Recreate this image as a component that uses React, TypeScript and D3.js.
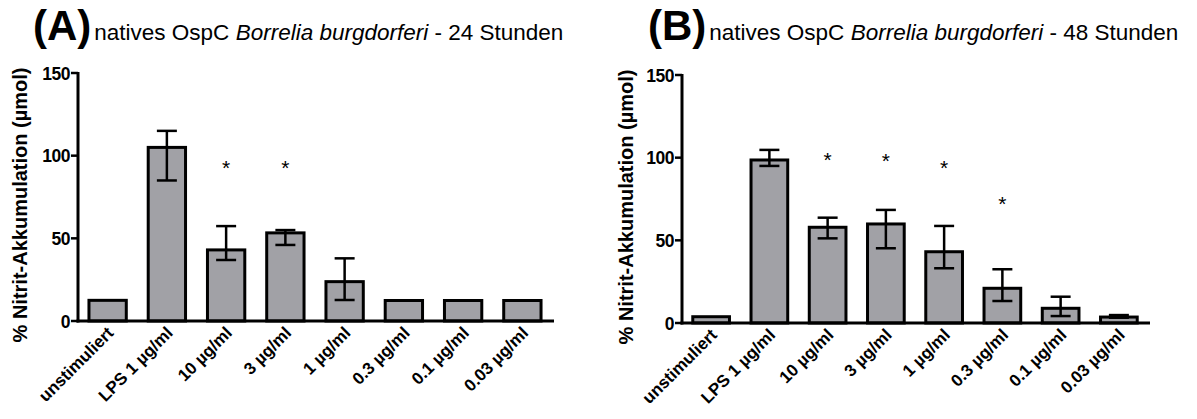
import { useEffect, useRef } from "react";
import * as d3 from "d3";

const categories = [
  "unstimuliert",
  "LPS 1 µg/ml",
  "10 µg/ml",
  "3 µg/ml",
  "1 µg/ml",
  "0.3 µg/ml",
  "0.1 µg/ml",
  "0.03 µg/ml",
];
const yTicks = [0, 50, 100, 150];

// (A) 24 Stunden
const meanA = [12.5, 105, 43, 53.3, 23.8, 12.4, 12.4, 12.4];
const highA = [12.7, 115, 57.4, 55, 37.9, 12.6, 12.6, 12.6];
const lowA = [12.3, 85, 36.9, 46, 12.7, 12.2, 12.2, 12.2];
const starsA = [null, null, 95.5, 95.5, null, null, null, null];

// (B) 48 Stunden
const meanB = [3.8, 98.6, 57.9, 59.9, 43.1, 21, 8.9, 3.6];
const highB = [4.1, 104.7, 63.7, 68.4, 58.7, 32.5, 15.9, 4.8];
const lowB = [3.5, 95, 51.2, 45.2, 33.1, 13.3, 4.2, 3.2];
const starsB = [null, null, 101.6, 101.2, 97, 75, null, null];

const yTitle = "% Nitrit-Akkumulation (µmol)";

export default function App() {
  const svgRef = useRef<SVGSVGElement | null>(null);

  useEffect(() => {
    const svg = d3.select(svgRef.current);
    svg.selectAll("*").remove();
    const font = "'Liberation Sans', Arial, sans-serif";

    const panels = [
      { letter: "(A)", hours: "24", mean: meanA, high: highA, low: lowA, stars: starsA,
        x0: 78, x1: 552, yTop: 73, yBottom: 321, titleX: 33, yTitleX: 27 },
      { letter: "(B)", hours: "48", mean: meanB, high: highB, low: lowB, stars: starsB,
        x0: 682, x1: 1148, yTop: 75, yBottom: 323, titleX: 648, yTitleX: 633 },
    ];

    panels.forEach(p => {
      const g = svg.append("g");
      const x = d3.scaleBand<string>().domain(categories).range([p.x0, p.x1])
        .paddingInner(0.37).paddingOuter(0.185);
      const y = d3.scaleLinear().domain([0, 150]).range([p.yBottom, p.yTop]);

      // title
      const title = g.append("text").attr("x", p.titleX).attr("y", 40)
        .style("font-family", font).attr("fill", "#000");
      title.append("tspan").style("font-size", "42px").style("font-weight", "bold").text(p.letter);
      title.append("tspan").attr("dx", 3).style("font-size", "22.5px").text("natives OspC ");
      title.append("tspan").style("font-size", "22.5px").style("font-style", "italic").text("Borrelia burgdorferi");
      title.append("tspan").style("font-size", "22.5px").text(` - ${p.hours} Stunden`);

      // y title
      g.append("text")
        .attr("transform", `translate(${p.yTitleX},${(p.yTop + p.yBottom) / 2 + 8}) rotate(-90)`)
        .attr("text-anchor", "middle")
        .style("font-family", font).style("font-size", "20px").style("font-weight", "bold")
        .text(yTitle);

      // bars
      g.selectAll(".bar").data(categories).join("rect")
        .attr("class", "bar")
        .attr("x", d => x(d)!)
        .attr("width", x.bandwidth())
        .attr("y", (_, i) => y(p.mean[i]))
        .attr("height", (_, i) => y(0) - y(p.mean[i]))
        .attr("fill", "#a1a1a6")
        .attr("stroke", "#000")
        .attr("stroke-width", 3);

      // error bars
      const cap = 10;
      categories.forEach((c, i) => {
        const cx = x(c)! + x.bandwidth() / 2;
        const yh = y(p.high[i]);
        const yl = y(p.low[i]);
        if (yl - yh < 1.5) return;
        const e = g.append("g").attr("stroke", "#000").attr("stroke-width", 2.5);
        e.append("line").attr("x1", cx).attr("x2", cx).attr("y1", yh).attr("y2", yl);
        e.append("line").attr("x1", cx - cap).attr("x2", cx + cap).attr("y1", yh).attr("y2", yh);
        e.append("line").attr("x1", cx - cap).attr("x2", cx + cap).attr("y1", yl).attr("y2", yl);
      });

      // stars
      categories.forEach((c, i) => {
        const s = p.stars[i];
        if (s == null) return;
        g.append("text")
          .attr("x", x(c)! + x.bandwidth() / 2)
          .attr("y", y(s) + 12)
          .attr("text-anchor", "middle")
          .style("font-family", font).style("font-size", "21px")
          .text("*");
      });

      // axes
      g.append("line").attr("x1", p.x0).attr("x2", p.x0).attr("y1", p.yTop - 1).attr("y2", p.yBottom + 1.5)
        .attr("stroke", "#000").attr("stroke-width", 3);
      g.append("line").attr("x1", p.x0 - 1.5).attr("x2", p.x1 + 2).attr("y1", p.yBottom).attr("y2", p.yBottom)
        .attr("stroke", "#000").attr("stroke-width", 3);

      yTicks.forEach(t => {
        g.append("line").attr("x1", p.x0 - 7).attr("x2", p.x0).attr("y1", y(t)).attr("y2", y(t))
          .attr("stroke", "#000").attr("stroke-width", 2.5);
        g.append("text").attr("x", p.x0 - 8).attr("y", y(t) + 6.5)
          .attr("text-anchor", "end")
          .style("font-family", font).style("font-size", "17.5px").style("font-weight", "bold")
          .attr("letter-spacing", "-0.5px")
          .text(t);
      });

      // x labels
      categories.forEach(c => {
        const cx = x(c)! + x.bandwidth() / 2;
        g.append("text")
          .attr("transform", `translate(${cx + 7},${p.yBottom + 13}) rotate(-45)`)
          .attr("text-anchor", "end")
          .style("font-family", font).style("font-size", "17px").style("font-weight", "bold")
          .text(c);
      });
    });
  }, []);

  return (
    <svg ref={svgRef} width={1197} height={419}
      style={{ position: "absolute", left: 0, top: 0, background: "#fff" }} />
  );
}
